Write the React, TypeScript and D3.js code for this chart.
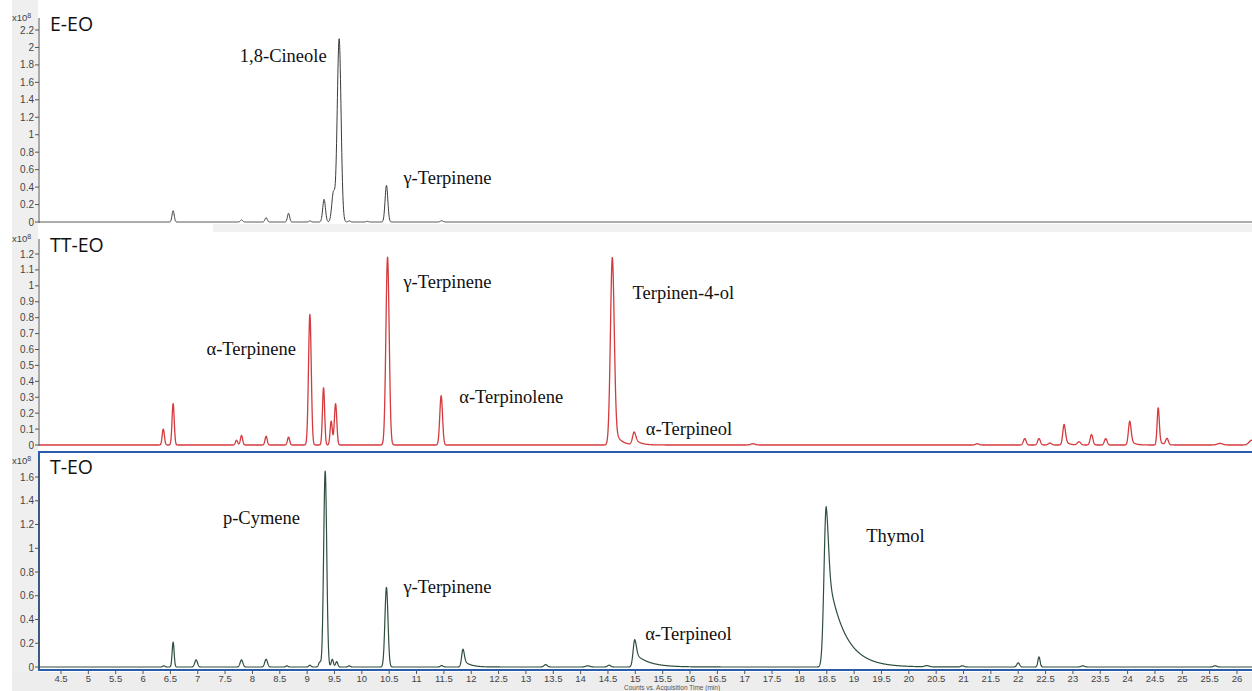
import React, { useEffect } from "react";
import * as d3 from "d3";

// peak = [retention time (min), height (x10^8 counts), sigma (min), tail fraction, tail tau (min)]
type Peak = [number, number, number, number?, number?];

const eeoPeaks: Peak[] = [
  [6.55, 0.13, 0.02],
  [7.8, 0.025, 0.02],
  [8.25, 0.05, 0.02],
  [8.66, 0.1, 0.02],
  [9.05, 0.012, 0.02],
  [9.31, 0.26, 0.025],
  [9.48, 0.33, 0.03],
  [9.585, 2.1, 0.035],
  [9.77, 0.012, 0.02],
  [10.1, 0.008, 0.02],
  [10.45, 0.42, 0.025],
  [11.46, 0.015, 0.025],
];

const tteoPeaks: Peak[] = [
  [6.37, 0.1, 0.02],
  [6.55, 0.26, 0.02],
  [7.71, 0.03, 0.02],
  [7.8, 0.06, 0.02],
  [8.25, 0.055, 0.02],
  [8.66, 0.05, 0.02],
  [9.05, 0.82, 0.025],
  [9.3, 0.36, 0.02],
  [9.44, 0.15, 0.02],
  [9.52, 0.26, 0.022],
  [10.47, 1.18, 0.03],
  [11.45, 0.31, 0.025],
  [14.58, 1.18, 0.035, 0.12, 0.1],
  [14.98, 0.08, 0.03, 0.5, 0.1],
  [17.15, 0.008, 0.04],
  [21.25, 0.008, 0.03],
  [22.12, 0.04, 0.025],
  [22.38, 0.04, 0.025],
  [22.58, 0.012, 0.03],
  [22.84, 0.13, 0.025, 0.3, 0.06],
  [23.11, 0.02, 0.03],
  [23.34, 0.065, 0.025],
  [23.6, 0.04, 0.025],
  [24.04, 0.15, 0.025, 0.3, 0.06],
  [24.56, 0.235, 0.02, 0.2, 0.05],
  [24.72, 0.04, 0.025],
  [25.69, 0.01, 0.05],
  [26.27, 0.03, 0.05],
];

const teoPeaks: Peak[] = [
  [6.38, 0.01, 0.02],
  [6.55, 0.21, 0.018],
  [6.97, 0.06, 0.025],
  [7.8, 0.06, 0.025],
  [8.25, 0.065, 0.025],
  [8.63, 0.01, 0.02],
  [9.05, 0.015, 0.02],
  [9.23, 0.04, 0.02],
  [9.33, 1.65, 0.028],
  [9.46, 0.065, 0.02],
  [9.54, 0.045, 0.02],
  [9.77, 0.01, 0.02],
  [10.45, 0.67, 0.028],
  [11.46, 0.012, 0.025],
  [11.85, 0.15, 0.025, 0.4, 0.12],
  [13.36, 0.02, 0.03],
  [14.13, 0.01, 0.04],
  [14.52, 0.015, 0.03],
  [14.99, 0.23, 0.03, 0.5, 0.25],
  [18.49, 1.35, 0.04, 0.65, 0.3],
  [20.33, 0.01, 0.04],
  [20.98, 0.01, 0.03],
  [22.0, 0.035, 0.025],
  [22.38, 0.085, 0.02],
  [23.18, 0.01, 0.03],
  [25.6, 0.01, 0.03],
];

// compound labels: [text, time, intensity]
type Label = [string, number, number];
const eeoLabels: Label[] = [
  ["1,8-Cineole", 7.77, 1.83],
  ["γ-Terpinene", 10.76, 0.435],
];
const tteoLabels: Label[] = [
  ["α-Terpinene", 7.16, 0.565],
  ["γ-Terpinene", 10.76, 0.984],
  ["Terpinen-4-ol", 14.95, 0.915],
  ["α-Terpinolene", 11.78, 0.266],
  ["α-Terpineol", 15.19, 0.063],
];
const teoLabels: Label[] = [
  ["p-Cymene", 7.46, 1.204],
  ["γ-Terpinene", 10.76, 0.626],
  ["α-Terpineol", 15.18, 0.227],
  ["Thymol", 19.22, 1.05],
];

const eeoTicks = [0, 0.2, 0.4, 0.6, 0.8, 1, 1.2, 1.4, 1.6, 1.8, 2, 2.2];
const tteoTicks = [0, 0.1, 0.2, 0.3, 0.4, 0.5, 0.6, 0.7, 0.8, 0.9, 1, 1.1, 1.2];
const teoTicks = [0, 0.2, 0.4, 0.6, 0.8, 1, 1.2, 1.4, 1.6];
const timeTicks = [
  4.5, 5, 5.5, 6, 6.5, 7, 7.5, 8, 8.5, 9, 9.5, 10, 10.5, 11, 11.5, 12, 12.5, 13,
  13.5, 14, 14.5, 15, 15.5, 16, 16.5, 17, 17.5, 18, 18.5, 19, 19.5, 20, 20.5,
  21, 21.5, 22, 22.5, 23, 23.5, 24, 24.5, 25, 25.5, 26,
];

const W = 1252;
const H = 691;
const AXIS_X = 39;

const x = d3.scaleLinear().domain([4.5, 26]).range([61, 1237]);
const tDomain: [number, number] = [x.invert(AXIS_X), x.invert(W + 2)];
const times = d3.range(tDomain[0], tDomain[1], 0.004);

function signal(peaks: Peak[], t: number) {
  let s = 0;
  for (const [rt, h, sd, f = 0, tau = 0.1] of peaks) {
    const dt = t - rt;
    const g = Math.exp((-dt * dt) / (2 * sd * sd));
    s += dt < 0 ? h * g : h * ((1 - f) * g + f * Math.exp(-dt / tau));
  }
  return s;
}

const serif = "'Liberation Serif', 'Times New Roman', serif";
const sans = "'Liberation Sans', Arial, sans-serif";
const title = "'Open Sans', 'Noto Sans', sans-serif";

function fmt(v: number) {
  return String(+v.toFixed(1));
}

function Trace({ peaks, y, color, width }: any) {
  const line = d3
    .line<number>()
    .x((t) => x(t))
    .y((t) => y(signal(peaks, t)));
  return (
    <path d={line(times) || ""} fill="none" stroke={color} strokeWidth={width} strokeLinejoin="round" />
  );
}

function Frame({ labels, ticks, name, y, top }: any) {
  const y0 = y(0);
  return (
    <g>
      {/* multiplier */}
      <text x={12} y={top + 9} fontFamily={sans} fontSize={9.5} fill="#444">
        x10
        <tspan dy={-3} fontSize={7}>8</tspan>
      </text>
      {ticks.map((v: number) => (
        <g key={v}>
          <line x1={AXIS_X - 4} x2={AXIS_X} y1={y(v)} y2={y(v)} stroke="#555" />
          <text
            x={AXIS_X - 5}
            y={y(v)}
            dy="0.35em"
            textAnchor="end"
            fontFamily={sans}
            fontSize={10}
            fill="#444"
          >
            {fmt(v)}
          </text>
        </g>
      ))}
      <line x1={AXIS_X} x2={AXIS_X} y1={top + 6} y2={y0 + 1} stroke="#555" />
      <text x={50} y={top + 19} fontFamily={title} fontSize={19.5} fill="#111">
        {name}
      </text>
      {labels.map(([txt, t, v]: Label) => (
        <text key={txt} x={x(t)} y={y(v)} fontFamily={serif} fontSize={18.5} fill="#111">
          {txt}
        </text>
      ))}
    </g>
  );
}

export default function App() {
  useEffect(() => {
    document.body.style.margin = "0";
  }, []);

  const y1 = d3.scaleLinear().domain([0, 2.2]).range([222, 30]);
  const y2 = d3.scaleLinear().domain([0, 1.2]).range([445, 254]);
  const y3 = d3.scaleLinear().domain([0, 1.6]).range([667, 477]);

  return (
    <svg width={W} height={H} style={{ display: "block", background: "#fff" }}>
      <defs>
        <clipPath id="plot">
          <rect x={AXIS_X} y={0} width={W} height={H} />
        </clipPath>
      </defs>
      {/* grey background of the instrument window */}
      <rect x={12} y={0} width={AXIS_X - 13} height={H} fill="#efefef" />
      <rect x={213} y={224} width={W} height={8} fill="#f1f1f1" />
      <rect x={12} y={672} width={W} height={H - 672} fill="#ededed" />

      <g clipPath="url(#plot)">
        <Trace peaks={eeoPeaks} y={y1} color="#3b3b3b" width={1} />
        <Trace peaks={tteoPeaks} y={y2} color="#d43a3e" width={1.3} />
      </g>
      <Frame labels={eeoLabels} ticks={eeoTicks} name="E-EO" y={y1} top={12} />
      <Frame labels={tteoLabels} ticks={tteoTicks} name="TT-EO" y={y2} top={233} />

      {/* selection frame around the bottom chromatogram */}
      <rect x={AXIS_X} y={452} width={W} height={218} fill="none" stroke="#2b5cab" strokeWidth={2} />
      <g clipPath="url(#plot)">
        <Trace peaks={teoPeaks} y={y3} color="#2e4f3e" width={1.2} />
      </g>
      <Frame labels={teoLabels} ticks={teoTicks} name="T-EO" y={y3} top={455} />

      {/* time axis */}
      {timeTicks.map((t) => (
        <g key={t}>
          <line x1={x(t)} x2={x(t)} y1={671} y2={674} stroke="#555" />
          <text x={x(t)} y={681.5} textAnchor="middle" fontFamily={sans} fontSize={9.5} fill="#444">
            {fmt(t)}
          </text>
        </g>
      ))}
      <text x={672} y={689.5} textAnchor="middle" fontFamily={sans} fontSize={6.5} fill="#555">
        Counts vs. Acquisition Time (min)
      </text>
    </svg>
  );
}
